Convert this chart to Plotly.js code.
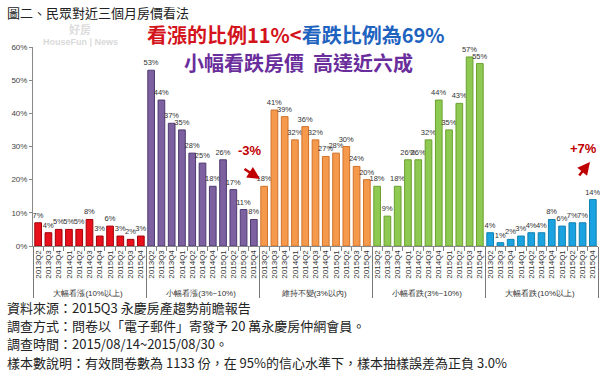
<!DOCTYPE html>
<html>
<head>
<meta charset="utf-8">
<script src="https://cdn.plot.ly/plotly-3.0.1.min.js"></script>
<style>html,body{margin:0;padding:0;background:#fff;}#chart{width:600px;height:390px;}</style>
</head>
<body>
<div id="chart"></div>
<script>
var quarters = ['2013Q2','2013Q3','2013Q4','2014Q1','2014Q2','2014Q3','2014Q4','2015Q1','2015Q2','2015Q3','2015Q4'];
var groups = ['大幅看漲(10%以上)','小幅看漲(3%~10%)','維持不變(3%以內)','小幅看跌(3%~10%)','大幅看跌(10%以上)'];
var bigUp = [7,4,5,5,5,8,3,6,3,2,3];
var smallUp = [53,44,37,35,28,25,18,26,17,11,8];
var flat = [18,41,39,32,36,32,27,28,30,24,20];
var smallDown = [18,9,18,26,26,32,44,35,43,57,55];
var bigDown = [4,1,2,3,4,4,8,6,7,7,14];
var seriesValues = [bigUp, smallUp, flat, smallDown, bigDown];

var fills = ['#e8101a','#7d60a0','#f59a4c','#8ec952','#1aa3e0'];
var lines = ['#a00008','#4e3a70','#d0722a','#6aa030','#1080b0'];

var traces = seriesValues.map(function(vals, i){
  return {
    type:'bar',
    name: groups[i],
    x:[quarters.map(function(){return groups[i];}), quarters],
    y: vals,
    text: vals.map(function(v){return v+'%';}),
    textposition:'outside',
    constraintext:'none',
    textfont:{size:7.5, color:'#333', family:'Liberation Sans Narrow, Arial Narrow, sans-serif'},
    cliponaxis:false,
    marker:{color:fills[i], line:{color:lines[i], width:1}},
    hoverinfo:'none'
  };
});

// pixel helpers
var L=33, T=47, W=565, H=199;
function px(x){return (x-L)/W;}
function py(y){return (T+H-y)/H;}

var cjk = 'Noto Sans CJK TC, sans-serif';
var notes = [
  '資料來源：2015Q3 永慶房產趨勢前瞻報告',
  '調查方式：問卷以「電子郵件」寄發予 20 萬永慶房仲網會員。',
  '調查時間：2015/08/14~2015/08/30。',
  '樣本數說明：有效問卷數為 1133 份，在 95%的信心水準下，樣本抽樣誤差為正負 3.0%'
];
var noteY = [307, 325, 343.5, 362];

var annotations = [
  {xref:'paper', yref:'paper', x:px(5), y:py(12), xanchor:'left', yanchor:'middle', showarrow:false,
   text:'圖二、民眾對近三個月房價看法', font:{family:cjk, size:13, color:'#222'}},
  {xref:'paper', yref:'paper', x:px(80), y:py(29), xanchor:'center', yanchor:'middle', showarrow:false,
   text:'<b>好房</b>', font:{family:cjk, size:11, color:'rgba(190,190,190,0.55)'}},
  {xref:'paper', yref:'paper', x:px(80), y:py(42), xanchor:'center', yanchor:'middle', showarrow:false,
   text:'<b>HouseFun | News</b>', font:{family:'Liberation Sans, Arial, sans-serif', size:9, color:'rgba(190,190,190,0.6)'}},
  {xref:'paper', yref:'paper', x:px(296), y:py(35), xanchor:'center', yanchor:'middle', showarrow:false,
   text:'<b><span style="color:#d4141c">看漲的比例11%&lt;</span><span style="color:#1f63c0">看跌比例為69%</span></b>',
   font:{family:cjk, size:20}},
  {xref:'paper', yref:'paper', x:px(298), y:py(62), xanchor:'center', yanchor:'middle', showarrow:false,
   text:'<b>小幅看跌房價  高達近六成</b>', font:{family:cjk, size:20, color:'#6a2d9c'}},
  {xref:'paper', yref:'paper', x:px(250), y:py(150), xanchor:'center', yanchor:'middle', showarrow:false,
   text:'<b>-3%</b>', font:{family:'Liberation Sans, Arial, sans-serif', size:13, color:'#c00000'}},
  {xref:'paper', yref:'paper', x:px(260), y:py(179), ax:-17, ay:-11, showarrow:true,
   arrowhead:2, arrowsize:1, arrowwidth:2.5, arrowcolor:'#c00000', text:''},
  {xref:'paper', yref:'paper', x:px(583), y:py(148), xanchor:'center', yanchor:'middle', showarrow:false,
   text:'<b>+7%</b>', font:{family:'Liberation Sans, Arial, sans-serif', size:13, color:'#c00000'}},
  {xref:'paper', yref:'paper', x:px(590), y:py(162), ax:-12, ay:15, showarrow:true,
   arrowhead:2, arrowsize:1, arrowwidth:2.5, arrowcolor:'#c00000', text:''}
];
notes.forEach(function(t, i){
  annotations.push({xref:'paper', yref:'paper', x:px(5), y:py(noteY[i]), xanchor:'left', yanchor:'middle',
    showarrow:false, text:t, font:{family:cjk, size:13, color:'#222'}});
});

var layout = {
  width:600, height:390,
  margin:{l:L, r:600-L-W, t:T, b:390-T-H, pad:0},
  paper_bgcolor:'#fff', plot_bgcolor:'#fff',
  showlegend:false,
  barmode:'relative',
  bargap:0.35,
  font:{family:cjk, size:8, color:'#333'},
  xaxis:{
    type:'multicategory',
    tickangle:-90,
    tickfont:{family:'Liberation Sans, Arial, sans-serif', size:8, color:'#333'},
    showline:true, linecolor:'#888', linewidth:1,
    ticks:'outside', ticklen:4, tickcolor:'#888', tickson:'boundaries',
    showdividers:true, dividercolor:'#777', dividerwidth:1,
    showgrid:false, zeroline:false, fixedrange:true
  },
  yaxis:{
    range:[0,60], dtick:10, ticksuffix:'%',
    tickfont:{family:'Liberation Sans, Arial, sans-serif', size:8, color:'#444'},
    showline:true, linecolor:'#888', linewidth:1,
    ticks:'outside', ticklen:3, tickcolor:'#888',
    showgrid:false, zeroline:false, fixedrange:true
  },
  annotations:annotations
};

Plotly.newPlot('chart', traces, layout, {displayModeBar:false, staticPlot:true});
</script>
</body>
</html>
